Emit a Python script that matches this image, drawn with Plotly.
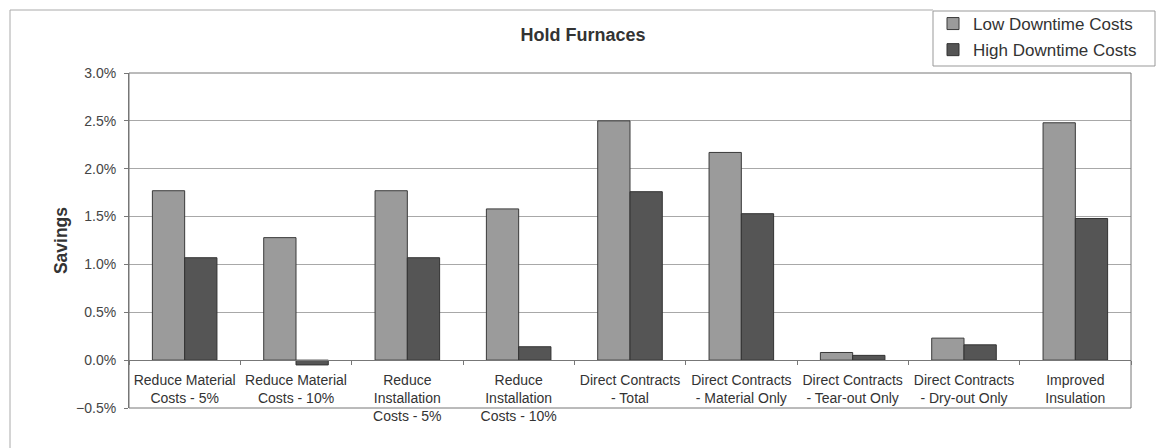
import plotly.graph_objects as go

# Categories and savings (fraction of cost) for each downtime-cost scenario
categories = [
    "Reduce Material<br>Costs - 5%",
    "Reduce Material<br>Costs - 10%",
    "Reduce<br>Installation<br>Costs - 5%",
    "Reduce<br>Installation<br>Costs - 10%",
    "Direct Contracts<br>- Total",
    "Direct Contracts<br>- Material Only",
    "Direct Contracts<br>- Tear-out Only",
    "Direct Contracts<br>- Dry-out Only",
    "Improved<br>Insulation",
]
low_downtime = [0.0177, 0.0128, 0.0177, 0.0158, 0.0250, 0.0217, 0.0008, 0.0023, 0.0248]
high_downtime = [0.0107, -0.0005, 0.0107, 0.0014, 0.0176, 0.0153, 0.0005, 0.0016, 0.0148]

y_min, y_max, y_step = -0.005, 0.03, 0.005

FONT = "Liberation Sans, Arial, sans-serif"
W, H = 1157, 448
ML, MR, MT, MB = 129, 26, 73, 40
plot_w = W - ML - MR
plot_h = H - MT - MB


def px_x(px):
    return (px - ML) / plot_w


def px_y(py):
    return (H - MB - py) / plot_h


fig = go.Figure()
fig.add_bar(
    x=categories, y=low_downtime, name="Low Downtime Costs",
    marker=dict(color="#9b9b9b", line=dict(color="#3a3a3a", width=1)),
    legendgroup="low",
)
fig.add_bar(
    x=categories, y=high_downtime, name="High Downtime Costs",
    marker=dict(color="#555555", line=dict(color="#333333", width=1)),
    legendgroup="high",
)

shapes = [
    # plot-area frame
    dict(type="rect", xref="x domain", yref="y domain", x0=0, x1=1, y0=0, y1=1,
         line=dict(color="#777777", width=1), fillcolor="rgba(0,0,0,0)", layer="above"),
    # outer chart frame (left and top edges)
    dict(type="path", xref="paper", yref="paper",
         path=f"M {px_x(10)} {px_y(450)} L {px_x(10)} {px_y(10)} L {px_x(933)} {px_y(10)}",
         line=dict(color="#aaaaaa", width=1)),
    # legend box
    dict(type="rect", xref="paper", yref="paper",
         x0=px_x(933), x1=px_x(1155), y0=px_y(66), y1=px_y(11),
         line=dict(color="#999999", width=1), fillcolor="white", layer="below"),
]

fig.update_layout(
    width=W, height=H,
    margin=dict(l=ML, r=MR, t=MT, b=MB, autoexpand=False),
    paper_bgcolor="white", plot_bgcolor="white",
    font=dict(family=FONT, color="#333333", size=12),
    barmode="group", bargap=0.42, bargroupgap=0,
    title=dict(text="<b>Hold Furnaces</b>", x=583 / W, xref="container", xanchor="center",
               y=1 - 35 / H, yref="container", yanchor="middle",
               font=dict(size=18, color="#333333", family=FONT)),
    showlegend=True,
    legend=dict(x=933 / W, y=1 - 6 / H, xref="container", yref="container",
                xanchor="left", yanchor="top",
                bgcolor="rgba(0,0,0,0)", borderwidth=0,
                font=dict(size=17, color="#333333", family=FONT),
                tracegroupgap=1, itemwidth=30),
    shapes=shapes,
)

fig.update_xaxes(
    type="category",
    anchor="free", position=(0 - y_min) / (y_max - y_min),
    showline=True, linecolor="#777777", linewidth=1,
    ticks="outside", ticklen=4, tickcolor="#777777", tickson="boundaries",
    ticklabelstandoff=7,
    tickfont=dict(size=14, color="#333333", family=FONT),
    showgrid=False, tickangle=0,
)
fig.update_yaxes(
    range=[y_min, y_max], dtick=y_step, tick0=0, tickformat=".1%",
    showgrid=True, gridcolor="#a8a8a8", gridwidth=1,
    zeroline=True, zerolinecolor="#777777", zerolinewidth=1,
    showline=True, linecolor="#777777",
    ticks="outside", ticklen=4, tickcolor="#777777",
    ticklabelstandoff=5,
    tickfont=dict(size=14, color="#444444", family=FONT),
    title=dict(text="<b>Savings</b>", font=dict(size=17.5, color="#333333", family=FONT), standoff=3),
)

fig.write_html("out.html")
